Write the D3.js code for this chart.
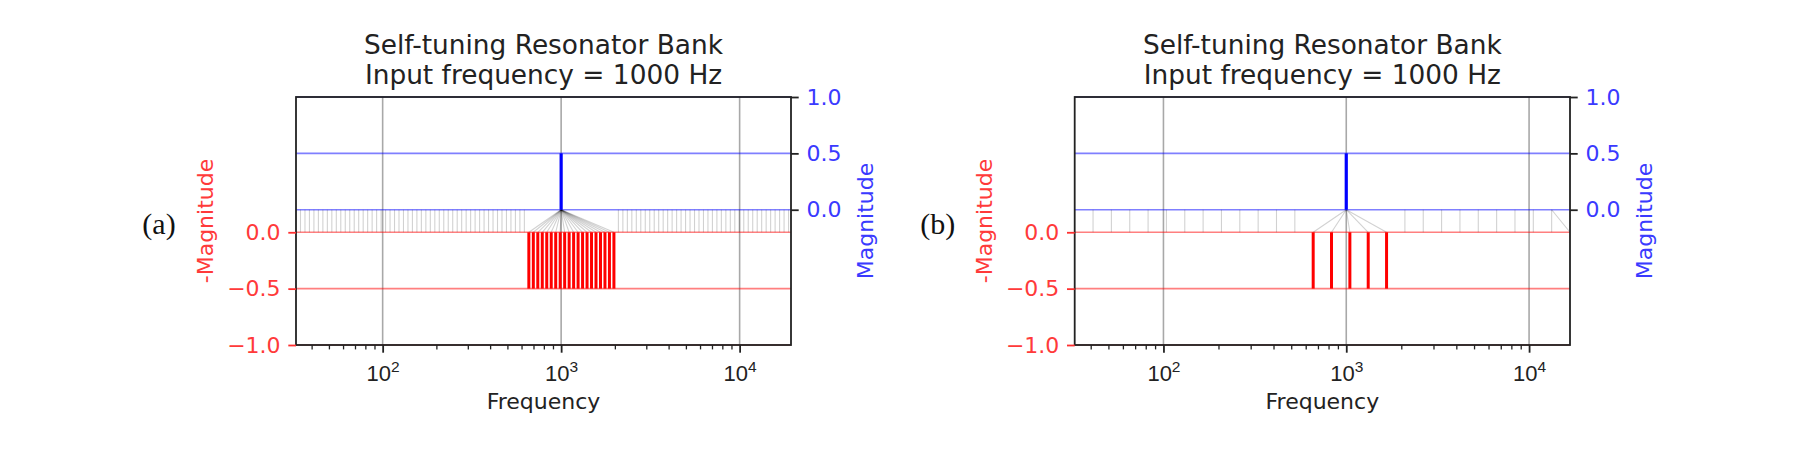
<!DOCTYPE html>
<html>
<head>
<meta charset="utf-8">
<script src="https://cdn.jsdelivr.net/npm/d3@7"></script>
<style>
  body { margin: 0; background: #fff; }
  svg { display: block; font-family: "DejaVu Sans", sans-serif; }
</style>
</head>
<body>
<svg id="fig" width="1800" height="449"></svg>
<script>
// input tone
const inputFreq = 1000;
const inputMag = 0.5;

// (a) semitone bank, C1 .. D10
const bankA = [
  32.70, 34.65, 36.71, 38.89, 41.20, 43.65, 46.25, 49.00, 51.91, 55.00, 58.27, 61.74,
  65.41, 69.30, 73.42, 77.78, 82.41, 87.31, 92.50, 98.00, 103.83, 110.00, 116.54, 123.47,
  130.81, 138.59, 146.83, 155.56, 164.81, 174.61, 185.00, 196.00, 207.65, 220.00, 233.08, 246.94,
  261.63, 277.18, 293.66, 311.13, 329.63, 349.23, 369.99, 392.00, 415.30, 440.00, 466.16, 493.88,
  523.25, 554.37, 587.33, 622.25, 659.26, 698.46, 739.99, 783.99, 830.61, 880.00, 932.33, 987.77,
  1046.50, 1108.73, 1174.66, 1244.51, 1318.51, 1396.91, 1479.98, 1567.98, 1661.22, 1760.00, 1864.66, 1975.53,
  2093.00, 2217.46, 2349.32, 2489.02, 2637.02, 2793.83, 2959.96, 3135.96, 3322.44, 3520.00, 3729.31, 3951.07,
  4186.01, 4434.92, 4698.64, 4978.03, 5274.04, 5587.65, 5919.91, 6271.93, 6644.88, 7040.00, 7458.62, 7902.13,
  8372.02, 8869.84, 9397.27, 9956.06, 10548.08, 11175.30, 11839.82, 12543.85, 13289.75, 14080.00, 14917.24, 15804.27,
  16744.04, 17739.69, 18794.55
];
// resonators of (a) pulled onto the input tone
const lockedA = [
  659.26, 698.46, 739.99, 783.99, 830.61, 880.00, 932.33, 987.77,
  1046.50, 1108.73, 1174.66, 1244.51, 1318.51, 1396.91, 1479.98, 1567.98, 1661.22, 1760.00, 1864.66, 1975.53
];
const respA = [
  0.5, 0.5, 0.5, 0.5, 0.5, 0.5, 0.5, 0.5, 0.5, 0.5,
  0.5, 0.5, 0.5, 0.5, 0.5, 0.5, 0.5, 0.5, 0.5, 0.5
];

// (b) major-third bank, E1 .. C10
const bankB = [
  41.20, 51.91, 65.41, 82.41, 103.83, 130.81, 164.81, 207.65, 261.63,
  329.63, 415.30, 523.25, 659.26, 830.61, 1046.50, 1318.51, 1661.22, 2093.00,
  2637.02, 3322.44, 4186.01, 5274.04, 6644.88, 8372.02, 10548.08, 13289.75, 16744.04
];
const lockedB = [659.26, 830.61, 1046.50, 1318.51, 1661.22];
const respB = [0.5, 0.5, 0.5, 0.5, 0.5];
// resonator frequency -> drifted tuning
const driftB = [[16744.04, 13289.75]];

const xLimA = [32.70, 19400];
const xLimB = [32.70, 16744.04];
const redLim = [-1.0, 1.2];
const blueLim = [-1.2, 1.0];
const redTicks = [-1.0, -0.5, 0.0];
const blueTicks = [0.0, 0.5, 1.0];
const decades = [100, 1000, 10000];

const titleLines = ['Self-tuning Resonator Bank', 'Input frequency = 1000 Hz'];

const svg = d3.select('#fig');
const plotTop = 97, plotBottom = 345;
const tickLen = 7.7, tickPad = 7.7;

function drawPanel(left, right, xLim, bank, locked, resp, drift, tag) {
    const g = svg.append('g');
    const x = d3.scaleLog().domain(xLim).range([left, right]);
    const yR = d3.scaleLinear().domain(redLim).range([plotBottom, plotTop]);
    const yB = d3.scaleLinear().domain(blueLim).range([plotBottom, plotTop]);

    // vertical grid on decades
    g.append('g').selectAll('line')
        .data(decades)
        .enter().append('line')
        .attr('x1', d => x(d)).attr('x2', d => x(d))
        .attr('y1', plotTop).attr('y2', plotBottom)
        .attr('stroke', '#a8a8a8').attr('stroke-width', 1.6);

    // coloured horizontal grids
    g.append('g').selectAll('line')
        .data(redTicks)
        .enter().append('line')
        .attr('x1', left).attr('x2', right)
        .attr('y1', d => yR(d)).attr('y2', d => yR(d))
        .attr('stroke', 'red').attr('stroke-opacity', 0.5).attr('stroke-width', 1.6);
    g.append('g').selectAll('line')
        .data(blueTicks)
        .enter().append('line')
        .attr('x1', left).attr('x2', right)
        .attr('y1', d => yB(d)).attr('y2', d => yB(d))
        .attr('stroke', 'blue').attr('stroke-opacity', 0.5).attr('stroke-width', 1.6);

    // links between resonator frequency and its tuning
    const links = bank.map(function(f) {
        let t = f;
        if (locked.indexOf(f) >= 0) t = inputFreq;
        for (let i = 0; i < drift.length; i++) {
            if (drift[i][0] === f) t = drift[i][1];
        }
        return {f: f, t: t};
    });
    g.append('g').selectAll('line')
        .data(links)
        .enter().append('line')
        .attr('x1', d => x(d.f)).attr('y1', yR(0))
        .attr('x2', d => x(d.t)).attr('y2', yB(0))
        .attr('stroke', '#000').attr('stroke-opacity', 0.18).attr('stroke-width', 1.1);

    // red stems (negated magnitude)
    g.append('g').selectAll('line')
        .data(locked)
        .enter().append('line')
        .attr('x1', d => x(d)).attr('x2', d => x(d))
        .attr('y1', yR(0)).attr('y2', (d, i) => yR(-resp[i]))
        .attr('stroke', '#ff0000').attr('stroke-width', 3);

    // blue input stem
    g.append('line')
        .attr('x1', x(inputFreq)).attr('x2', x(inputFreq))
        .attr('y1', yB(0)).attr('y2', yB(inputMag))
        .attr('stroke', '#0000ff').attr('stroke-width', 3.2);

    // frame
    g.append('rect')
        .attr('x', left).attr('y', plotTop)
        .attr('width', right - left).attr('height', plotBottom - plotTop)
        .attr('fill', 'none').attr('stroke', '#222').attr('stroke-width', 1.8);

    // x axis: major and minor ticks
    const xMajor = g.append('g').attr('transform', 'translate(0,' + plotBottom + ')')
        .call(d3.axisBottom(x).tickValues(decades).tickSize(tickLen).tickPadding(tickPad).tickFormat(''));
    xMajor.select('.domain').remove();
    xMajor.selectAll('line').attr('stroke', '#222').attr('stroke-width', 1.8);
    xMajor.selectAll('.tick text').remove();
    xMajor.selectAll('.tick').append('text')
        .attr('y', 36).attr('fill', '#222').attr('text-anchor', 'middle')
        .style('font-size', '22px')
        .each(function(d) {
            const t = d3.select(this);
            t.append('tspan').text('10');
            t.append('tspan').attr('dy', -9).style('font-size', '15.5px').text(Math.round(Math.log10(d)));
        });

    const minors = x.ticks().filter(d => decades.indexOf(d) < 0);
    const xMinor = g.append('g').attr('transform', 'translate(0,' + plotBottom + ')')
        .call(d3.axisBottom(x).tickValues(minors).tickSize(4.4).tickFormat(''));
    xMinor.select('.domain').remove();
    xMinor.selectAll('line').attr('stroke', '#222').attr('stroke-width', 1.3);

    // left axis, red
    const yl = g.append('g').attr('transform', 'translate(' + left + ',0)')
        .call(d3.axisLeft(yR).tickValues(redTicks).tickSize(tickLen).tickPadding(tickPad).tickFormat(d3.format('.1f')));
    yl.select('.domain').remove();
    yl.selectAll('line').attr('stroke', '#ff3030').attr('stroke-width', 1.8);
    yl.selectAll('text').attr('fill', '#ff3a3a').style('font-size', '22px')
        .style('font-family', '"DejaVu Sans", sans-serif');

    // right axis, blue
    const yr = g.append('g').attr('transform', 'translate(' + right + ',0)')
        .call(d3.axisRight(yB).tickValues(blueTicks).tickSize(tickLen).tickPadding(tickPad).tickFormat(d3.format('.1f')));
    yr.select('.domain').remove();
    yr.selectAll('line').attr('stroke', '#222').attr('stroke-width', 1.8);
    yr.selectAll('text').attr('fill', '#3a3aff').style('font-size', '22px')
        .style('font-family', '"DejaVu Sans", sans-serif');

    const midY = (plotTop + plotBottom) / 2;
    g.append('text')
        .attr('transform', 'translate(' + (left - 83) + ',' + midY + ') rotate(-90)')
        .attr('text-anchor', 'middle').attr('fill', '#ff3a3a')
        .style('font-size', '22px').text('-Magnitude');
    g.append('text')
        .attr('transform', 'translate(' + (right + 82) + ',' + midY + ') rotate(-90)')
        .attr('text-anchor', 'middle').attr('fill', '#3a3aff')
        .style('font-size', '22px').text('Magnitude');

    g.append('text')
        .attr('x', (left + right) / 2).attr('y', 409)
        .attr('text-anchor', 'middle').attr('fill', '#222')
        .style('font-size', '22px').text('Frequency');

    g.append('g').selectAll('text')
        .data(titleLines)
        .enter().append('text')
        .attr('x', (left + right) / 2)
        .attr('y', (d, i) => 54 + 30 * i)
        .attr('text-anchor', 'middle').attr('fill', '#222')
        .style('font-size', '26.4px')
        .text(d => d);

    g.append('text')
        .attr('x', left - 137).attr('y', 234)
        .attr('text-anchor', 'middle').attr('fill', '#111')
        .style('font-family', '"Liberation Serif", serif')
        .style('font-size', '30px').text(tag);
}

drawPanel(296, 791, xLimA, bankA, lockedA, respA, [], '(a)');
drawPanel(1074.7, 1570, xLimB, bankB, lockedB, respB, driftB, '(b)');
</script>
</body>
</html>
